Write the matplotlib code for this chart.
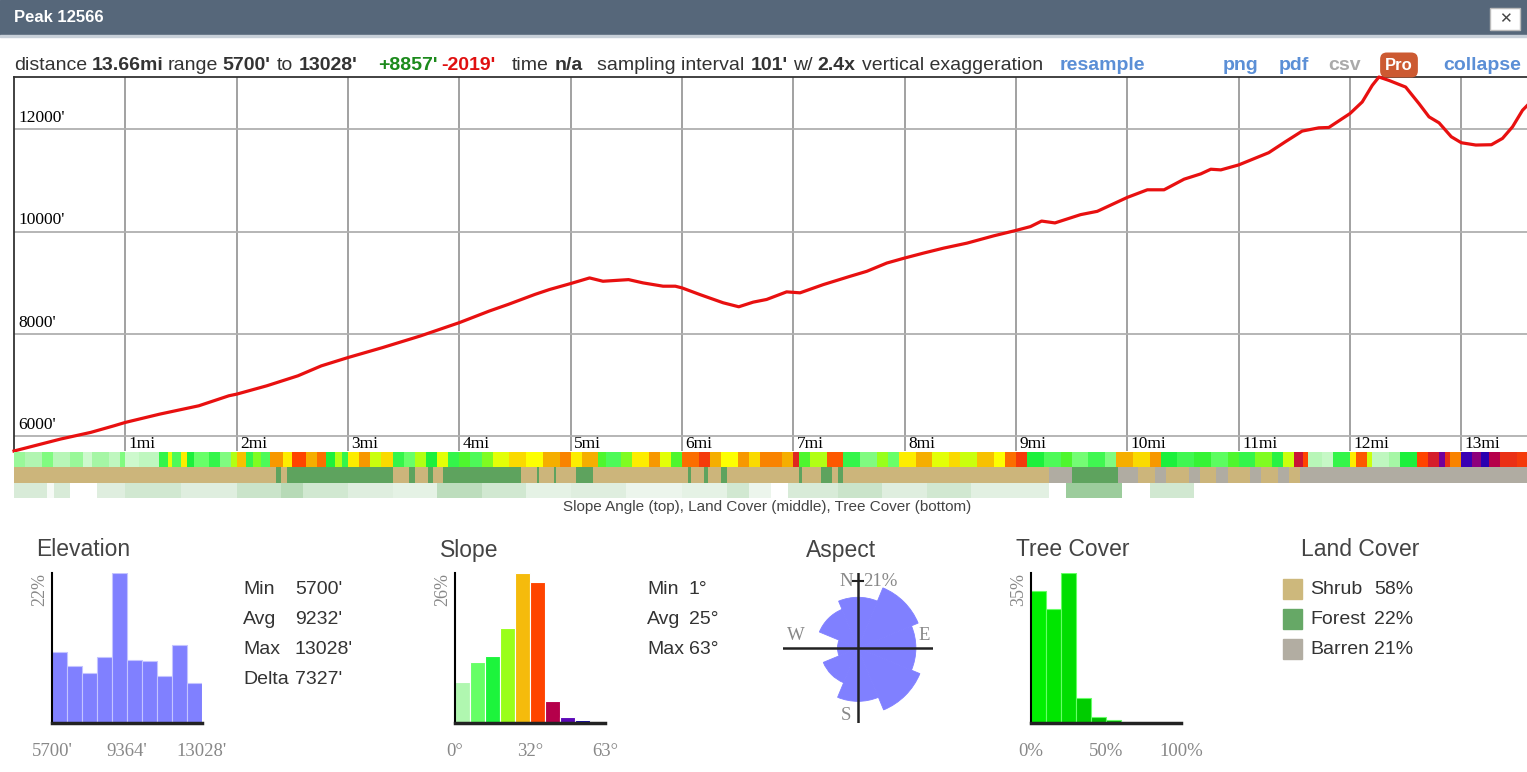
import numpy as np
import matplotlib
matplotlib.use("Agg")
import matplotlib.pyplot as plt
from matplotlib.colors import LinearSegmentedColormap
from matplotlib.patches import Rectangle, Wedge

W, H = 1527, 772

# elevation profile (miles, feet)
prof_mi = [0, 0.42, 0.69, 0.9, 1.0, 1.31, 1.66, 1.93, 2.0, 2.27, 2.55, 2.76, 3.0,
           3.31, 3.65, 4.0, 4.27, 4.44, 4.68, 4.81, 5.0, 5.17, 5.29, 5.52, 5.65,
           5.83, 5.94, 6.0, 6.16, 6.37, 6.51, 6.64, 6.76, 6.94, 7.06, 7.27, 7.51,
           7.66, 7.84, 8.0, 8.17, 8.35, 8.56, 8.8, 9.0, 9.13, 9.23, 9.35, 9.58,
           9.73, 10.0, 10.18, 10.33, 10.51, 10.66, 10.75, 10.84, 11.0, 11.27,
           11.42, 11.57, 11.72, 11.81, 12.0, 12.11, 12.2, 12.26, 12.35, 12.5,
           12.62, 12.71, 12.8, 12.91, 13.0, 13.13, 13.27, 13.37, 13.46, 13.55,
           13.66]
prof_ft = [5700, 5935, 6065, 6195, 6260, 6423, 6586, 6782, 6814, 6977, 7173, 7368,
           7531, 7726, 7954, 8215, 8443, 8573, 8769, 8864, 8981, 9091, 9026, 9058,
           8994, 8929, 8929, 8896, 8766, 8604, 8526, 8617, 8669, 8818, 8799, 8961,
           9123, 9221, 9383, 9481, 9578, 9675, 9773, 9916, 10022, 10097, 10205,
           10169, 10331, 10396, 10669, 10818, 10818, 11026, 11130, 11221, 11208,
           11305, 11545, 11760, 11968, 12032, 12039, 12312, 12539, 12864, 13028,
           12961, 12831, 12506, 12247, 12130, 11857, 11740, 11695, 11701, 11825,
           12052, 12377, 12620]

# slope strip: segment start (mi) and slope angle (deg)
slope_mi = [0.0, 0.1, 0.25, 0.35, 0.5, 0.62, 0.7, 0.85, 0.95, 1.0, 1.12, 1.3, 1.38,
            1.42, 1.5, 1.55, 1.62, 1.75, 1.85, 1.95, 2.0, 2.08, 2.15, 2.22, 2.3,
            2.42, 2.5, 2.62, 2.72, 2.8, 2.88, 2.95, 3.0, 3.1, 3.2, 3.3, 3.4, 3.5,
            3.6, 3.7, 3.8, 3.9, 4.0, 4.1, 4.2, 4.3, 4.45, 4.6, 4.75, 4.9, 5.0,
            5.1, 5.25, 5.32, 5.45, 5.55, 5.7, 5.8, 5.9, 6.0, 6.15, 6.25, 6.35,
            6.5, 6.6, 6.7, 6.9, 7.0, 7.05, 7.15, 7.3, 7.45, 7.6, 7.75, 7.85, 7.95,
            8.1, 8.25, 8.4, 8.5, 8.65, 8.8, 8.9, 9.0, 9.1, 9.25, 9.4, 9.5, 9.65,
            9.8, 9.9, 10.05, 10.2, 10.3, 10.45, 10.6, 10.75, 10.9, 11.0, 11.15,
            11.3, 11.4, 11.5, 11.58, 11.62, 11.75, 11.85, 12.0, 12.05, 12.15,
            12.2, 12.35, 12.45, 12.6, 12.7, 12.8, 12.85, 12.9, 13.0, 13.1, 13.18,
            13.25, 13.35, 13.5]
slope_deg = [10, 8, 12, 7, 10, 4, 9, 6, 12, 4, 6, 18, 28, 16, 30, 20, 14, 18, 12,
             26, 32, 18, 24, 16, 34, 30, 38, 33, 36, 20, 26, 18, 30, 34, 27, 31,
             18, 14, 26, 20, 28, 18, 22, 16, 24, 28, 31, 29, 33, 35, 30, 33, 22,
             16, 24, 30, 34, 28, 22, 36, 39, 33, 29, 34, 31, 35, 33, 41, 22, 26,
             37, 18, 12, 25, 14, 30, 33, 28, 31, 27, 32, 29, 36, 39, 20, 16, 22,
             13, 17, 12, 33, 31, 34, 20, 17, 21, 15, 22, 18, 24, 19, 27, 43, 38,
             7, 5, 18, 30, 37, 27, 6, 9, 20, 38, 42, 50, 40, 35, 56, 48, 58, 45,
             40, 39]

# land cover strip: 0 shrub, 1 forest, 2 barren
land_mi = [0.0, 2.35, 2.4, 2.45, 3.4, 3.55, 3.6, 3.72, 3.76, 3.85, 4.55, 4.7, 4.72,
           4.85, 4.87, 5.05, 5.2, 6.05, 6.08, 6.2, 6.23, 6.35, 6.4, 7.05, 7.08,
           7.25, 7.35, 7.4, 7.45, 9.3, 9.5, 9.92, 10.1, 10.25, 10.35, 10.55,
           10.65, 10.8, 10.9, 11.1, 11.2, 11.35, 11.45, 11.55, 11.75]
land_cls = [0, 1, 0, 1, 0, 1, 0, 1, 0, 1, 0, 1, 0, 1, 0, 1, 0, 1, 0, 1, 0, 1, 0,
            1, 0, 1, 0, 1, 0, 2, 1, 2, 0, 2, 0, 2, 0, 2, 0, 2, 0, 2, 0, 2, 2]

# tree cover strip: segment start (mi) and tree cover (%)
tree_mi = [0.0, 0.3, 0.36, 0.5, 0.75, 1.0, 1.5, 2.0, 2.4, 2.6, 3.0, 3.4, 3.8, 4.2,
           4.6, 5.0, 5.5, 6.0, 6.4, 6.6, 6.8, 6.95, 7.4, 7.8, 8.2, 8.6, 9.3,
           9.45, 9.95, 10.2, 10.6]
tree_pct = [12, 3, 12, 0, 10, 14, 10, 16, 22, 14, 10, 8, 20, 14, 8, 10, 6, 8, 14,
            6, 0, 12, 16, 10, 14, 9, 0, 30, 0, 14, 0]

elev_hist = [10.4, 8.4, 7.3, 9.7, 22.0, 9.2, 9.1, 6.9, 11.5, 5.8]
slope_hist = [7.1, 10.5, 11.7, 16.5, 26.0, 24.4, 3.8, 1.1, 0.6, 0.0]
slope_colors = ["#b0f7b0", "#66ff66", "#1cf43c", "#99ff1a", "#f5bb0c",
                "#ff4400", "#b5004a", "#5c08b8", "#0a00aa", "#0a00aa"]
tree_hist = [30.9, 26.7, 35.0, 5.9, 1.4, 0.8, 0, 0, 0, 0]
tree_colors = ["#00f000", "#00e600", "#00de00", "#00cc00", "#00bb00",
               "#00aa00", "#009900", "#008800", "#007700", "#006600"]
aspect_pct = [12.2, 20.1, 15.9, 21.3, 13.5, 6.7, 2.0, 8.3]  # N, NE, E, SE, S, SW, W, NW
land_names = ["Shrub", "Forest", "Barren"]
land_pct = ["58%", "22%", "21%"]
land_colors = ["#cdb87c", "#66a866", "#b2ada2"]
strip_land_colors = ["#ccb57b", "#5ea35e", "#b0aca2"]

SANS = "Liberation Sans"
SERIF = "Liberation Serif"

fig = plt.figure(figsize=(W / 100, H / 100), dpi=100)


def rect(x0, y0, x1, y1):
    return [x0 / W, 1 - y1 / H, (x1 - x0) / W, (y1 - y0) / H]


def txt(x, y, s, **kw):
    kw.setdefault("va", "center")
    kw.setdefault("family", SANS)
    return fig.text(x / W, 1 - y / H, s, **kw)


# header
fig.patches.append(Rectangle((0, 1 - 35 / H), 1, 35 / H, transform=fig.transFigure,
                             color="#56677a", zorder=0))
fig.patches.append(Rectangle((0, 1 - 37 / H), 1, 2 / H, transform=fig.transFigure,
                             color="#c8d0d9", zorder=0))
txt(14, 18, "Peak 12566", color="white", weight="bold", size=12)
fig.patches.append(Rectangle((1490 / W, 1 - 30 / H), 30 / W, 22 / H,
                             transform=fig.transFigure, fc="white", ec="#bbbbbb", lw=1))
txt(1505, 19, "\u2715", color="#444", size=11, ha="center", family="DejaVu Sans",
    weight="bold")

# info row
FS = 14
row = [(14, "distance", "normal", "#333"), (92, "13.66mi", "bold", "#333"),
       (168, "range", "normal", "#333"), (222, "5700'", "bold", "#333"),
       (277, "to", "normal", "#333"), (299, "13028'", "bold", "#333"),
       (378, "+8857'", "bold", "#1c8a1c"), (441, "-2019'", "bold", "#e01010"),
       (512, "time", "normal", "#333"), (555, "n/a", "bold", "#333"),
       (597, "sampling interval", "normal", "#333"), (751, "101'", "bold", "#333"),
       (793, "w/", "normal", "#333"), (817, "2.4x", "bold", "#333"),
       (862, "vertical exaggeration", "normal", "#333"),
       (1060, "resample", "bold", "#5b8fd6"), (1223, "png", "bold", "#5b8fd6"),
       (1279, "pdf", "bold", "#5b8fd6"), (1328, "csv", "bold", "#aaaaaa"),
       (1443, "collapse", "bold", "#5b8fd6")]
for x, s, w, c in row:
    txt(x, 65, s, weight=w, color=c, size=FS)
txt(1399, 65, "Pro", color="white", weight="bold", size=12, ha="center",
    bbox=dict(boxstyle="round,pad=0.3,rounding_size=0.4", fc="#cc5a32", ec="none"))

# main profile
ax = fig.add_axes(rect(14, 77, 1527, 451))
ax.set_xlim(0, 13.59)
ax.set_ylim(5700, 13028)
for m in range(1, 14):
    ax.axvline(m, color="#9a9a9a", lw=1.3, zorder=1)
    ax.text(m + 0.03, 5985, f"{m}mi", family=SERIF, size=12.5, va="top", ha="left")
for e in [6000, 8000, 10000, 12000]:
    ax.axhline(e, color="#b0b0b0", lw=1.3, zorder=1)
    ax.text(0.04, e + 60, f"{e}'", family=SERIF, size=12.5, va="bottom", ha="left")
ax.plot(prof_mi, prof_ft, color="#e81010", lw=2.3, zorder=3, clip_on=False)
ax.set_xticks([])
ax.set_yticks([])
for side in ["right", "bottom"]:
    ax.spines[side].set_visible(False)
for side in ["top", "left"]:
    ax.spines[side].set_color("#333")
    ax.spines[side].set_linewidth(1.3)

# strips
sx = fig.add_axes(rect(14, 452, 1527, 498))
sx.set_xlim(0, 13.59)
sx.set_ylim(0, 3)
sx.axis("off")
slope_cmap = LinearSegmentedColormap.from_list(
    "slope", [(0, "#eafcea"), (8 / 63, "#b0f5b0"), (14 / 63, "#66ff66"),
              (20 / 63, "#1cf03c"), (25 / 63, "#99ff1a"), (29 / 63, "#ffff00"),
              (33 / 63, "#f5b000"), (38 / 63, "#ff4400"), (45 / 63, "#b5004a"),
              (52 / 63, "#5c00b8"), (1, "#0000aa")])
tree_cmap = LinearSegmentedColormap.from_list("tree", ["#ffffff", "#3a9a3a"])

edges = np.array(slope_mi + [13.66])
sx.barh(2.5, np.diff(edges), left=edges[:-1], height=1,
        color=[slope_cmap(d / 63) for d in slope_deg], linewidth=0, antialiased=False)
edges = np.array(land_mi + [13.66])
sx.barh(1.5, np.diff(edges), left=edges[:-1], height=1,
        color=[strip_land_colors[c] for c in land_cls], linewidth=0, antialiased=False)
edges = np.array(tree_mi + [13.66])
sx.barh(0.5, np.diff(edges), left=edges[:-1], height=1,
        color=[tree_cmap(min(p / 60, 1)) for p in tree_pct], linewidth=0, antialiased=False)
txt(767, 507, "Slope Angle (top), Land Cover (middle), Tree Cover (bottom)",
    color="#444", size=11, ha="center")


def hist_axes(x0, vals, lo, hi, ymax, colors, edge):
    h = fig.add_axes(rect(x0, 573, x0 + 150, 723))
    b = np.linspace(lo, hi, len(vals) + 1)
    h.bar(b[:-1], vals, width=np.diff(b), align="edge", color=colors,
          edgecolor=edge, linewidth=0.8)
    h.set_xlim(lo, hi)
    h.set_ylim(0, ymax)
    h.set_xticks([])
    h.set_yticks([])
    for side in ["top", "right"]:
        h.spines[side].set_visible(False)
    h.spines["left"].set_color("black")
    h.spines["left"].set_linewidth(1.5)
    h.spines["bottom"].set_color("#222")
    h.spines["bottom"].set_linewidth(2.5)
    return h


GRAY = "#888888"
DARK = "#444444"
TS = 16.5
SS = 14

# elevation
txt(36, 550, "Elevation", color=DARK, size=TS)
hist_axes(52, elev_hist, 5700, 13028, 22, "#8080ff", "#c4c4ff")
txt(40, 590, "22%", color=GRAY, family=SERIF, size=13, rotation=90, ha="center")
for x, s in [(52, "5700'"), (127, "9364'"), (202, "13028'")]:
    txt(x, 752, s, color=GRAY, family=SERIF, size=13.5, ha="center")
for y, a, b in [(590, "Min", "5700'"), (620, "Avg", "9232'"),
                (650, "Max", "13028'"), (679, "Delta", "7327'")]:
    txt(243, y, a, color="#333", size=SS)
    txt(295, y, b, color="#333", size=SS)

# slope
txt(440, 550, "Slope", color=DARK, size=TS)
hist_axes(455, slope_hist, 0, 63, 26, slope_colors, "white")
txt(443, 590, "26%", color=GRAY, family=SERIF, size=13, rotation=90, ha="center")
for x, s in [(455, "0\u00b0"), (530, "32\u00b0"), (605, "63\u00b0")]:
    txt(x, 752, s, color=GRAY, family=SERIF, size=13.5, ha="center")
for y, a, b in [(590, "Min", "1\u00b0"), (620, "Avg", "25\u00b0"),
                (650, "Max", "63\u00b0")]:
    txt(647, y, a, color="#333", size=SS)
    txt(689, y, b, color="#333", size=SS)

# aspect rose (radius ~ sqrt of share)
txt(806, 550, "Aspect", color=DARK, size=TS)
ra = fig.add_axes(rect(783, 573, 933, 723))
ra.set_xlim(-75, 75)
ra.set_ylim(-75, 75)
ra.axis("off")
pmax = max(aspect_pct)
for i, p in enumerate(aspect_pct):
    r = 67 * np.sqrt(p / pmax)
    mid = 90 - i * 45
    ra.add_patch(Wedge((0, 0), r, mid - 22.5, mid + 22.5, fc="#8080ff",
                       ec="#8080ff", lw=0.6))
ra.plot([-75, 75], [0, 0], color="#222", lw=1.8)
ra.plot([0, 0], [-75, 75], color="#222", lw=1.8)
ra.plot([-5, 5], [67, 67], color="#222", lw=1.5)
for x, y, s, ha in [(-12, 67, "N", "center"), (5, 67, "21%", "left"),
                    (-62, 12, "W", "center"), (66, 12, "E", "center"),
                    (-12, -68, "S", "center")]:
    ra.text(x, y, s, color=GRAY, family=SERIF, size=13.5, ha=ha, va="center",
            clip_on=False)

# tree cover
txt(1016, 550, "Tree Cover", color=DARK, size=TS)
hist_axes(1031, tree_hist, 0, 100, 35, tree_colors, "#66ff66")
txt(1019, 590, "35%", color=GRAY, family=SERIF, size=13, rotation=90, ha="center")
for x, s in [(1031, "0%"), (1106, "50%"), (1181, "100%")]:
    txt(x, 752, s, color=GRAY, family=SERIF, size=13.5, ha="center")

# land cover
txt(1301, 550, "Land Cover", color=DARK, size=TS)
for i, (n, p, c) in enumerate(zip(land_names, land_pct, land_colors)):
    y = 589 + 30 * i
    fig.patches.append(Rectangle((1283 / W, 1 - (y + 10) / H), 19 / W, 20 / H,
                                 transform=fig.transFigure, color=c))
    txt(1310, y, n, color="#333", size=SS)
    txt(1374, y, p, color="#333", size=SS)

fig.savefig("out.png", dpi=100, facecolor="white")
